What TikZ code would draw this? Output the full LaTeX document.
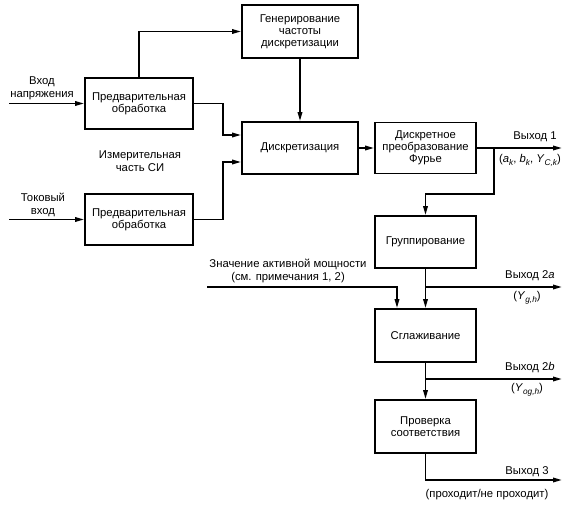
\documentclass[tikz,border=0pt]{standalone}
\usepackage{fontspec}
\setmainfont{Liberation Sans}
\usetikzlibrary{arrows.meta,calc}
\newcommand\ssub[1]{\raisebox{-0.5ex}{\fontsize{8.3}{8.3}\selectfont\itshape #1}}
\begin{document}
\begin{tikzpicture}[x=1pt,y=-1pt,
  box/.style={draw, line width=1.8pt, align=center, inner sep=0pt,
    font=\fontsize{11.3}{12.2}\selectfont},
  bw/.style={minimum width=101pt, minimum height=52pt},
  conn/.style={line width=1.7pt, -{Triangle[length=9pt,width=4.5pt]}},
  lbl/.style={align=center, inner sep=0pt, font=\fontsize{11.3}{12.8}\selectfont}]
\useasboundingbox (0,0) rectangle (570,506);
% blocks
\node[box,minimum width=116pt,minimum height=53pt] (gen) at (300,31.5) {Генерирование\\частоты\\дискретизации};
\node[box,minimum width=108pt,minimum height=51pt] (pre1) at (139,103.5) {Предварительная\\обработка};
\node[box,minimum width=116pt,minimum height=52pt] (disc) at (300,148) {Дискретизация};
\node[box,minimum width=108pt,minimum height=51pt] (pre2) at (139,219.5) {Предварительная\\обработка};
\node[box,bw,minimum height=51pt] (dft) at (425.5,148) {Дискретное\\преобразование\\Фурье};
\node[box,bw] (group) at (425.5,242) {Группирование};
\node[box,bw,minimum height=53pt] (smooth) at (425.5,335.5) {Сглаживание};
\node[box,bw,minimum height=53pt] (check) at (425.5,426.5) {Проверка\\соответствия};
% coordinates
\coordinate (in1) at (9,103.5);
\coordinate (in2) at (9,219.5);
\coordinate (j1) at (223,135);
\coordinate (j2) at (223,162);
\coordinate (o1) at (562,148);
\coordinate (b1) at (494,194);
\coordinate (o2a) at (562,287);
\coordinate (pw) at (207,287);
\coordinate (pwx) at (397,0);
\coordinate (o2b) at (562,379);
\coordinate (o3) at (562,480);
% connectors
\draw[conn] (in1) -- (pre1.west);
\draw[conn] (in2) -- (pre2.west);
\draw[conn] (pre1.north) |- (gen.west);
\draw[conn] (pre1.east) -| (j1) -- (disc.west |- j1);
\draw[conn] (pre2.east) -| (j2) -- (disc.west |- j2);
\draw[conn] (gen) -- (disc);
\draw[conn] (disc) -- (dft);
\draw[conn] (dft) -- (o1);
\draw[conn] (dft.east -| b1) -- (b1) -| (group.north);
\draw[conn] (group) -- (smooth);
\draw[conn] (group.south |- o2a) -- (o2a);
\draw[conn] (pw) -| (pwx |- smooth.north);
\draw[conn] (smooth) -- (check);
\draw[conn] (smooth.south |- o2b) -- (o2b);
\draw[conn] (check.south) |- (o3);
% labels
\node[lbl] (lin1) at (42,88.5) {Вход\\напряжения};
\node[lbl] (lin2) at (43,205) {Токовый\\вход};
\node[lbl] (lmeas) at (140,161) {Измерительная\\часть СИ};
\node[lbl] (lpw) at (288,271) {Значение активной мощности\\(см. примечания 1, 2)};
\node[lbl] (lo1) at (535,137) {Выход 1};
\node[lbl] (lo1b) at (530,160) {(\textit{a}\ssub{k}, \textit{b}\ssub{k}, \textit{Y}\ssub{C,k})};
\node[lbl] (lo2a) at (530,276) {Выход 2\textit{a}};
\node[lbl] (lo2ab) at (527,298) {(\textit{Y}\ssub{g,h})};
\node[lbl] (lo2b) at (530,368) {Выход 2\textit{b}};
\node[lbl] (lo2bb) at (527,390) {(\textit{Y}\ssub{og,h})};
\node[lbl] (lo3) at (527,472) {Выход 3};
\node[lbl] (lo3b) at (487,495) {(проходит/не проходит)};
\end{tikzpicture}
\end{document}
